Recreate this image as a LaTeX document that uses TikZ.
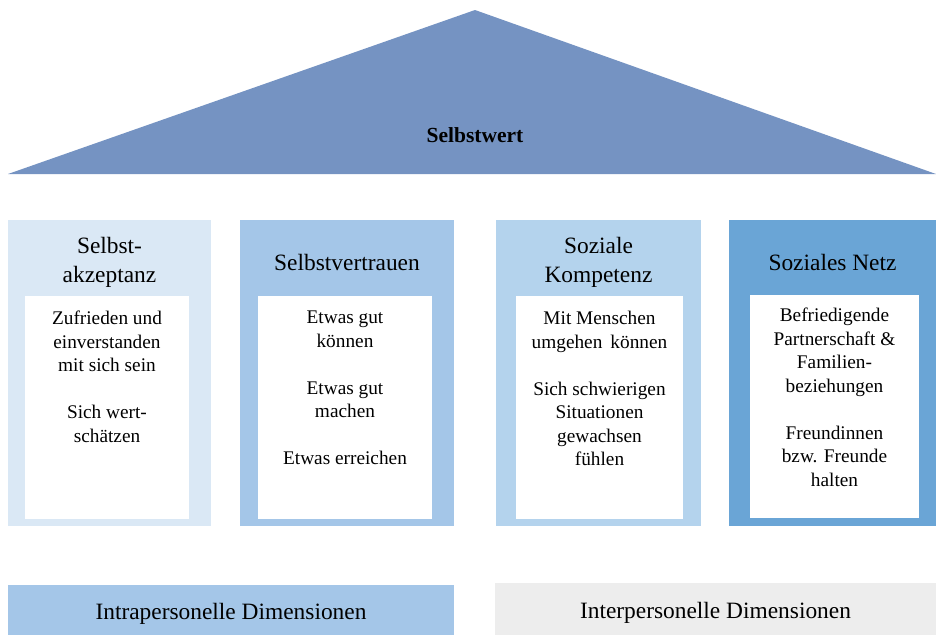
\documentclass[tikz,border=0pt]{standalone}
\usepackage{fontspec}
\setmainfont{Liberation Serif}
\definecolor{RoofBlue}{RGB}{117,147,194}
\definecolor{PaleBlue}{RGB}{218,232,245}
\definecolor{MidBlue}{RGB}{164,198,232}
\definecolor{SoftBlue}{RGB}{180,211,237}
\definecolor{DeepBlue}{RGB}{106,165,214}
\definecolor{LightGray}{RGB}{237,237,237}
\usetikzlibrary{positioning}
\tikzset{
  pillar/.style={anchor=north west, inner sep=0pt, outer sep=0pt, minimum height=306pt},
  card/.style={anchor=north west, fill=white, inner sep=0pt, outer sep=0pt, minimum height=223pt},
  pillartitle/.style={align=center, inner sep=0pt, font=\fontsize{23.4}{29}\selectfont},
  cardtext/.style={anchor=north, align=center, inner sep=0pt, font=\fontsize{19.3}{23.5}\selectfont},
  basebar/.style={inner sep=0pt, outer sep=0pt, minimum height=50pt, text height=19pt, text depth=0pt, font=\fontsize{23.4}{29}\selectfont}
}

\begin{document}
\begin{tikzpicture}[x=1pt, y=-1pt]
          \useasboundingbox (0,0) rectangle (936,635);
          % roof
          \fill[RoofBlue] (8,174) -- (475,10) -- (936,174) -- cycle;
          \node[font=\fontsize{21.5}{26}\selectfont\bfseries, inner sep=0pt] (wert) at (475,135) {Selbstwert};
          % pillars
          \node[pillar, fill=PaleBlue, minimum width=203pt] (akz) at (8,220) {};
          \node[pillar, fill=MidBlue, minimum width=214pt] (vertr) at (240,220) {};
          \node[pillar, fill=SoftBlue, minimum width=205pt] (komp) at (496,220) {};
          \node[pillar, fill=DeepBlue, minimum width=207pt] (netz) at (729,220) {};
          \node[card, minimum width=164pt] (akzcard) at (25,296) {};
          \node[card, minimum width=174pt] (vertrcard) at (258,296) {};
          \node[card, minimum width=167pt] (kompcard) at (516,296) {};
          \node[card, minimum width=169pt] (netzcard) at (750,295) {};
          % titles
          \node[pillartitle] (akztitle) at (109.5,262) {Selbst-\\akzeptanz};
          \node[pillartitle] (vertrtitle) at (347,262) {Selbstvertrauen};
          \node[pillartitle] (komptitle) at (598.5,262) {Soziale\\Kompetenz};
          \node[pillartitle] (netztitle) at (832.5,262) {Soziales Netz};
          % card texts
          \node[cardtext] (akztext) at (107,311) {Zufrieden und\\einverstanden\\mit sich sein\\[23.5pt]Sich wert-\\schätzen};
          \node[cardtext] (vertrtext) at (345,311) {Etwas gut\\können\\[23.5pt]Etwas gut\\machen\\[23.5pt]Etwas erreichen};
          \node[cardtext] (komptext) at (599.5,311) {Mit Menschen\\umgehen\, können\\[23.5pt]Sich schwierigen\\Situationen\\gewachsen\\fühlen};
          \node[cardtext] (netztext) at (834.5,308) {Befriedigende\\Partnerschaft \&\\Familien-\\beziehungen\\[23.5pt]Freundinnen\\bzw. Freunde\\halten};
          % dimensions
          \node[basebar, fill=MidBlue, minimum width=446pt] (intra) at (231,610) {Intrapersonelle Dimensionen};
          \node[basebar, fill=LightGray, minimum width=441pt, minimum height=52pt] (inter) at (715.5,609) {Interpersonelle Dimensionen};
        \end{tikzpicture}
\end{document}
